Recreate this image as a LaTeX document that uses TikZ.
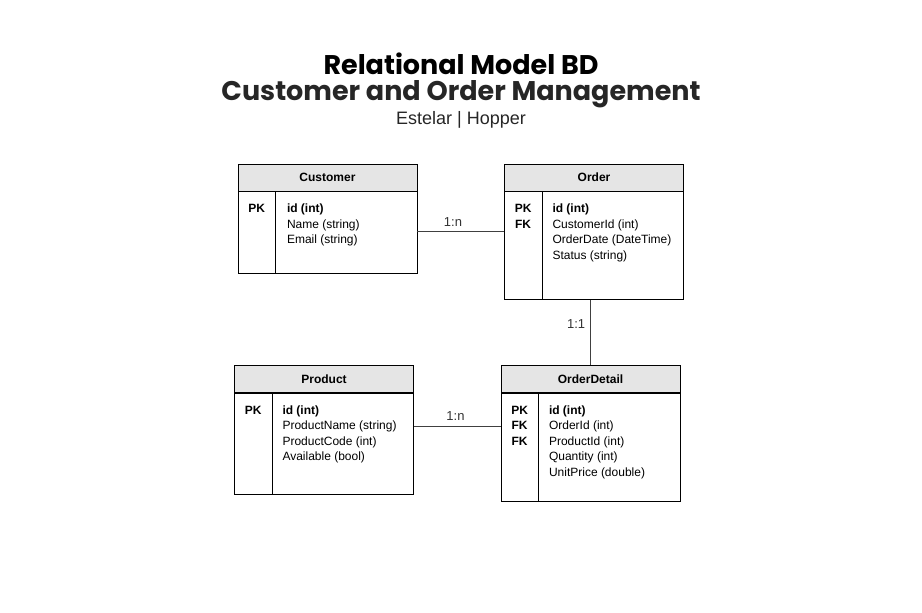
\documentclass[tikz,border=0pt]{standalone}
\usepackage{fontspec}
\setmainfont{Liberation Sans}
\newfontfamily\titlefont{Poppins}
\usetikzlibrary{positioning}
\begin{document}
\begin{tikzpicture}[x=1pt,y=-1pt,line width=0.8pt,
    head/.style={draw,fill=black!10,minimum width=179pt,minimum height=27pt,inner sep=0pt,
        font=\fontsize{12}{14}\selectfont\bfseries},
    body/.style={draw,minimum width=179pt,inner sep=0pt},
    keys/.style={anchor=north,align=center,inner sep=0pt,font=\fontsize{12}{15.5}\selectfont\bfseries},
    fields/.style={anchor=north west,align=left,inner sep=0pt,font=\fontsize{12}{15.5}\selectfont},
    link/.style={draw=black!75},
    card/.style={font=\fontsize{13}{15}\selectfont,text=black!80,inner sep=5pt}]

    \useasboundingbox (0,0) rectangle (922,613);

    % Title
    \node[font=\titlefont\fontsize{27}{29}\selectfont\bfseries] (title) at (461,64) {Relational Model BD};
    \node[font=\titlefont\fontsize{27}{29}\selectfont\bfseries,text=black!85] (subject) at (461,94) {Customer and Order Management};
    \node[font=\fontsize{18}{20}\selectfont,text=black!85] (authors) at (461,120) {Estelar | Hopper};

    % Define tables
    \node[head] (cust) at (327.5,177.5) {Customer};
    \node[body,minimum height=82pt,below=0pt of cust] (custbody) {};
    \node[head] (ord) at (594,177.5) {Order};
    \node[body,minimum height=108pt,below=0pt of ord] (ordbody) {};
    \node[head] (prod) at (324,379) {Product};
    \node[body,minimum height=101pt,below=0pt of prod] (prodbody) {};
    \node[head] (det) at (590.5,379) {OrderDetail};
    \node[body,minimum height=108pt,below=0pt of det] (detbody) {};

    % Key columns
    \foreach \t in {custbody,ordbody,prodbody,detbody}
        \draw ([xshift=38pt]\t.north west) -- ([xshift=38pt]\t.south west);

    % Keys and fields
    \node[keys] (custkeys) at ([xshift=19pt,yshift=-12.5pt]custbody.north west) {PK};
    \node[fields] (custfields) at ([xshift=49pt,yshift=-12.5pt]custbody.north west)
        {\textbf{id (int)}\\Name (string)\\Email (string)};
    \node[keys] (ordkeys) at ([xshift=19pt,yshift=-12.5pt]ordbody.north west) {PK\\FK};
    \node[fields] (ordfields) at ([xshift=48pt,yshift=-12.5pt]ordbody.north west)
        {\textbf{id (int)}\\CustomerId (int)\\OrderDate (DateTime)\\Status (string)};
    \node[keys] (prodkeys) at ([xshift=19pt,yshift=-12.5pt]prodbody.north west) {PK};
    \node[fields] (prodfields) at ([xshift=48pt,yshift=-12.5pt]prodbody.north west)
        {\textbf{id (int)}\\ProductName (string)\\ProductCode (int)\\Available (bool)};
    \node[keys] (detkeys) at ([xshift=19pt,yshift=-12.5pt]detbody.north west) {PK\\FK\\FK};
    \node[fields] (detfields) at ([xshift=48pt,yshift=-12.5pt]detbody.north west)
        {\textbf{id (int)}\\OrderId (int)\\ProductId (int)\\Quantity (int)\\UnitPrice (double)};

    % Draw relations
    \draw[link] ([yshift=-40pt]custbody.north east) -- node[card,above,pos=0.41] {1:n}
        ([yshift=-40pt]custbody.north east -| ordbody.west);
    \draw[link] (det.north |- ordbody.south) -- node[card,left,pos=0.36] {1:1} (det.north);
    \draw[link] ([yshift=-33pt]prodbody.north east) -- node[card,above,pos=0.48] {1:n}
        ([yshift=-33pt]prodbody.north east -| detbody.west);

\end{tikzpicture}
\end{document}
